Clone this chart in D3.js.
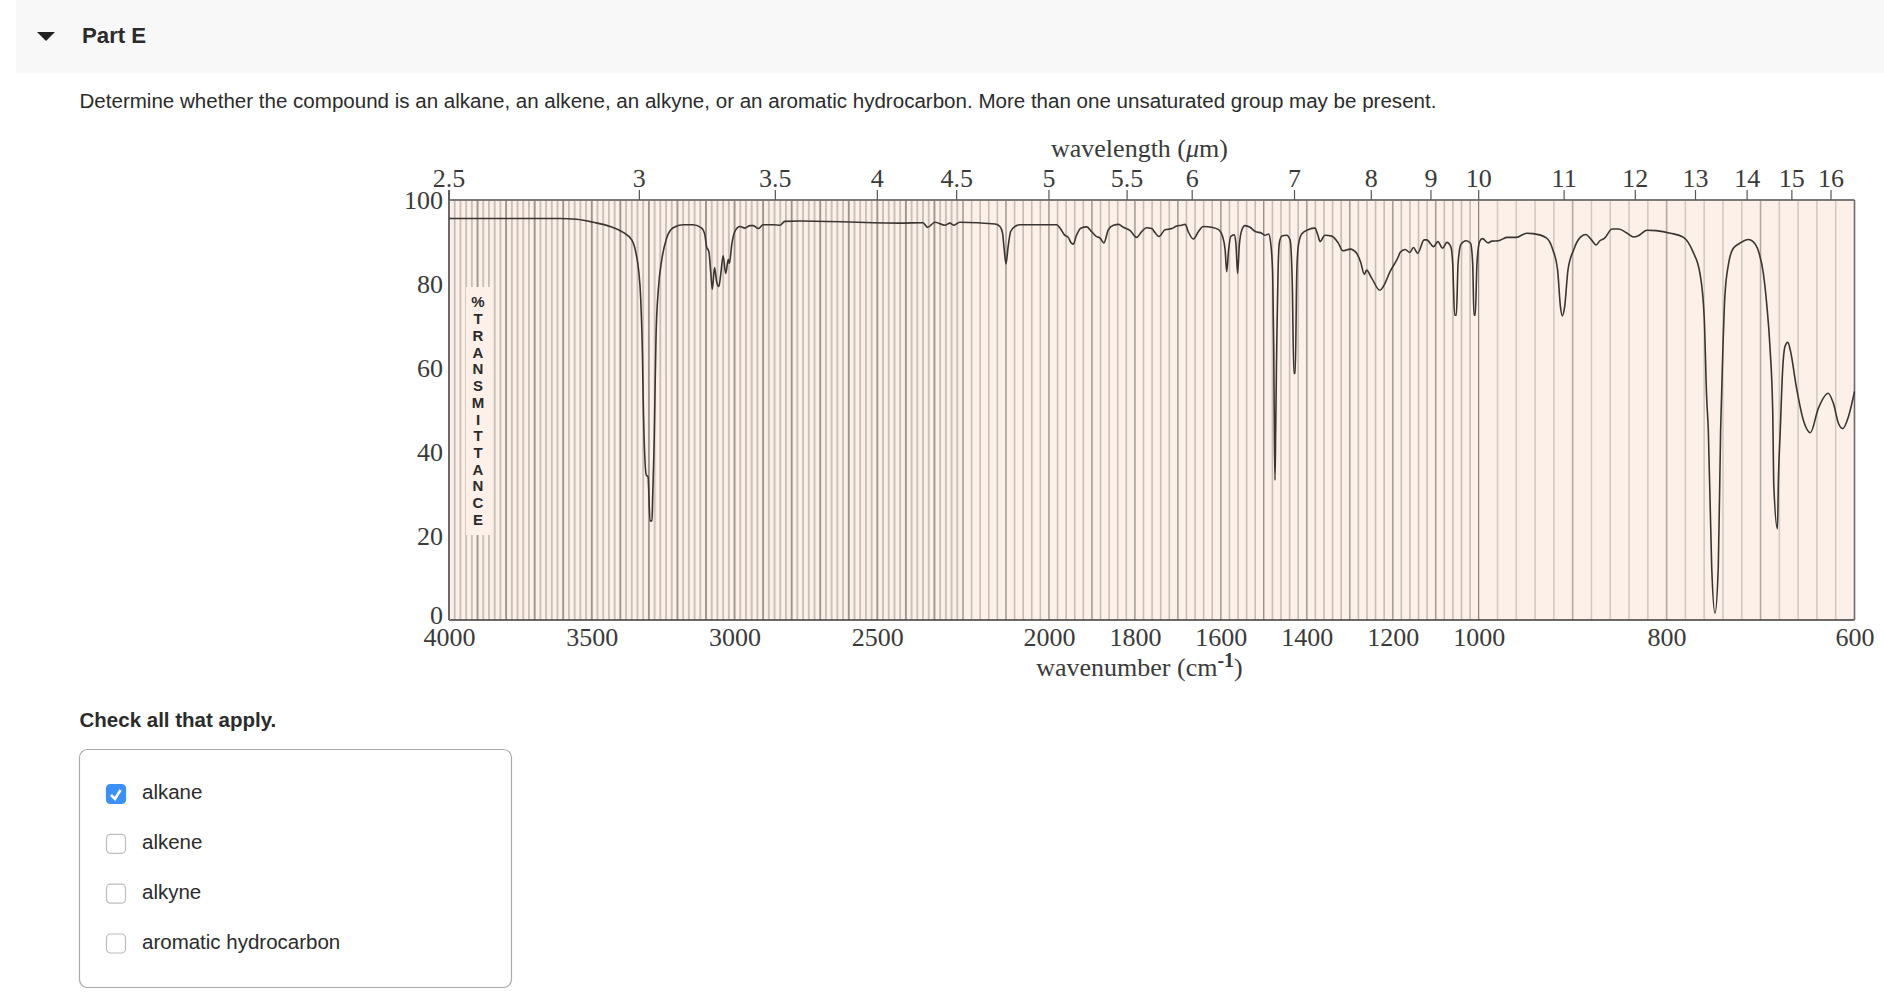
<!DOCTYPE html>
<html>
<head>
<meta charset="utf-8">
<script src="https://d3js.org/d3.v7.min.js"></script>
<style>
    html, body { margin: 0; padding: 0; background: #fff; overflow: hidden; }
    svg { display: block; }
    .ui { font-family: "Liberation Sans", Arial, sans-serif; fill: #2b2b2b; }
    .serif { font-family: "Liberation Serif", "Times New Roman", serif; fill: #3a3a3a; }
</style>
</head>
<body>
<div id="page"></div>
<script>
// spectrum: wavenumber (cm-1) and % transmittance
var wavenumbers = [
    4000, 3611, 3553, 3495, 3436, 3390, 3360, 3345, 3336, 3329, 3322, 3320, 3309, 3303, 3296, 3289, 3287, 3281, 3279,
    3275, 3267, 3255, 3238, 3215, 3180, 3145, 3115, 3104, 3098, 3090, 3083, 3078, 3070, 3063, 3055, 3048, 3040, 3031,
    3022, 3018, 3010, 2999, 2981, 2964, 2946, 2934, 2917, 2900, 2864, 2841, 2824, 2771, 2421, 2340, 2324, 2298, 2263,
    2246, 2232, 2211, 2125, 2114, 2108, 2104, 2100, 2095, 2089, 2079, 2067, 1982, 1974, 1964, 1955, 1949, 1943, 1937,
    1926, 1912, 1901, 1891, 1881, 1872, 1862, 1850, 1838, 1827, 1811, 1796, 1784, 1773, 1761, 1753, 1744, 1730, 1714,
    1703, 1691, 1683, 1676, 1664, 1652, 1641, 1621, 1606, 1596, 1590, 1586.4, 1582, 1577, 1569, 1565, 1561, 1557, 1551,
    1544, 1532, 1520, 1505, 1497, 1489, 1484, 1479.4, 1477, 1475.5, 1474, 1472.4, 1470, 1467, 1464, 1458, 1447, 1439,
    1434, 1430, 1427, 1423.5, 1420, 1412, 1396, 1381, 1375, 1369, 1358, 1342, 1327, 1316, 1299, 1284, 1275, 1266, 1261,
    1249, 1230, 1222, 1206, 1187, 1183, 1171, 1160, 1152, 1142, 1127, 1121, 1105, 1095, 1084, 1074, 1065, 1060.5, 1056,
    1052, 1048, 1041, 1029, 1019, 1014, 1011, 1008, 1004, 999, 996, 990, 986, 979, 970, 960, 949, 942, 928, 921, 916,
    913, 911, 908.5, 905, 899, 892, 886, 880, 875, 871, 866, 858, 851, 842, 835, 830, 821, 811, 796, 782, 772, 764.5,
    760, 757.4, 755.6, 752, 748.5, 745, 742.5, 740, 738, 734, 729, 722, 713, 708, 702, 697, 693.5, 690, 687, 686, 682,
    681, 679, 676.5, 674, 671, 668, 662, 654.5, 647, 638.5, 628, 622.5, 617, 612.5, 606.5, 600
];
var transmittance = [
    95.6, 95.6, 95.4, 94.7, 93.7, 92.3, 90.5, 87.3, 83.3, 77, 61.1, 52.4, 34.5, 34.1, 23.6, 23.6, 28.6, 44.4, 52.4,
    67.5, 78.6, 85.7, 90.9, 93.4, 94.1, 94.1, 93.3, 91.7, 88.9, 87.7, 82.5, 78.7, 83.9, 80.6, 79.4, 82.5, 86.7, 82.5,
    85.9, 84.9, 89.3, 92.5, 93.7, 93.3, 93.9, 93.9, 93.2, 94.1, 94.1, 94, 94.9, 95, 94.5, 94.6, 93.5, 94.7, 94,
    94.5, 94, 94.7, 94.3, 93.7, 92.1, 88.1, 84.8, 88.9, 92.5, 93.7, 94.1, 94.1, 93.3, 91.7, 91.1, 89.9, 89.5, 91.3,
    93.3, 93.6, 92.5, 91.4, 90.9, 89.8, 92.9, 94, 94.2, 93.5, 92.7, 91.1, 92.5, 93.4, 93.2, 92.2, 91.3, 92.9, 93.2,
    93.8, 94, 94.2, 92.5, 90.7, 92.5, 93.7, 93.5, 93, 91.3, 88.1, 82.9, 88.1, 91.3, 91.7, 89.7, 82.5, 89.3, 92.9,
    93.9, 93.5, 92.5, 92.1, 91.6, 91.9, 89.7, 82.5, 65.1, 45.2, 33.3, 45.2, 65.1, 82.5, 89.7, 91.4, 91.6, 90.5,
    81, 58.7, 58.7, 81.7, 88.9, 91.9, 93, 93.3, 91.9, 90.1, 91.6, 91.4, 89.8, 87.9, 88.3, 87.3, 85.3, 82.3, 83.3,
    81.4, 78.5, 79.4, 83, 86.5, 87.5, 88.2, 87.5, 88.7, 87.3, 90.5, 90.5, 88.9, 90.1, 88.5, 89.9, 88.9, 84.9, 72.6,
    72.6, 84.9, 89.5, 90.3, 89.7, 84.9, 72.6, 72.6, 84.9, 90.1, 90.8, 89.8, 90.2, 90.3, 91.1, 91.1, 92.1, 92, 91, 88.1, 83.3,
    74.6, 72.4, 74.6, 83.3, 88.1, 91.1, 91.8, 90.5, 89.3, 90.3, 90.9, 93.1, 93.1, 92.1, 91.2, 91.5, 92.8, 92.7, 92.1, 91.1, 87.7, 82.5,
    72.2, 53.2, 45.2, 12.6, 1.6, 12.6, 45.2, 65.1, 77, 84.9, 88.5, 89.7, 90.6, 90.1, 87.7, 82.5, 75.4, 65.1, 49.2, 32.6, 21.7,
    33.3, 45.2, 59.5, 65.1, 66.1, 63.9, 55.6, 47.6, 44.6, 50.4, 54, 51.6, 46.8, 45.6, 48.4, 54.4
];

// axis labels
var wavenumberTicks = [4000, 3500, 3000, 2500, 2000, 1800, 1600, 1400, 1200, 1000, 800, 600];
var wavelengthLabels = ["2.5", "3", "3.5", "4", "4.5", "5", "5.5", "6", "7", "8", "9", "10", "11", "12", "13", "14", "15", "16"];
var percentTicks = [0, 20, 40, 60, 80, 100];
var sideLabel = ["%", "T", "R", "A", "N", "S", "M", "I", "T", "T", "A", "N", "C", "E"];
var answerOptions = ["alkane", "alkene", "alkyne", "aromatic hydrocarbon"];
var answerChecked = [true, false, false, false];

var svg = d3.select("#page")
    .append("svg")
    .attr("width", 1884)
    .attr("height", 1002);

// the scan is a little soft, so the paper lines get a small blur
svg.append("defs").append("filter")
    .attr("id", "soft")
    .append("feGaussianBlur")
    .attr("stdDeviation", 0.4);

// the question around the chart
svg.append("rect").attr("x", 16).attr("y", 0).attr("width", 1868).attr("height", 73).attr("fill", "#f8f8f8");
svg.append("path").attr("d", "M37,32 L55,32 L46,41 Z").attr("fill", "#222");
svg.append("text").attr("class", "ui").attr("x", 82).attr("y", 43)
    .style("font-size", "22.2px").style("font-weight", "bold").text("Part E");
svg.append("text").attr("class", "ui").attr("x", 79.5).attr("y", 108)
    .style("font-size", "20.55px")
    .text("Determine whether the compound is an alkane, an alkene, an alkyne, or an aromatic hydrocarbon. More than one unsaturated group may be present.");
svg.append("text").attr("class", "ui").attr("x", 79.5).attr("y", 727)
    .style("font-size", "20.5px").style("font-weight", "bold").text("Check all that apply.");

svg.append("rect").attr("x", 79.5).attr("y", 749.5).attr("width", 432).attr("height", 238)
    .attr("rx", 8).attr("fill", "#fff").attr("stroke", "#aaa").attr("stroke-width", 1.2);

var optionRow = d3.scalePoint().domain(answerOptions).range([794, 943.5]);
var options = svg.selectAll(".option")
    .data(answerOptions)
    .enter()
    .append("g")
    .attr("class", "option")
    .attr("transform", function (d) { return "translate(106," + optionRow(d) + ")"; });

options.append("rect")
    .attr("x", 0.5).attr("y", -9.5).attr("width", 19).attr("height", 19).attr("rx", 4)
    .attr("fill", function (d, i) { return answerChecked[i] ? "#3b8ff5" : "#fff"; })
    .attr("stroke", function (d, i) { return answerChecked[i] ? "#3b8ff5" : "#bdbdbd"; })
    .attr("stroke-width", 1.2);
options.filter(function (d, i) { return answerChecked[i]; })
    .append("path")
    .attr("d", "M5,1 L9,5 L14.5,-4")
    .attr("fill", "none").attr("stroke", "#fff").attr("stroke-width", 2.6);
options.append("text")
    .attr("class", "ui")
    .attr("x", 36).attr("y", 5)
    .style("font-size", "20.5px")
    .text(function (d) { return d; });

// wavenumber axis changes its scale at 2200 and at 1000 cm-1
var x = d3.scaleLinear()
    .domain([4000, 2200, 1000, 600])
    .range([449, 963, 1478.7, 1854.5]);
var y = d3.scaleLinear()
    .domain([0, 100])
    .range([620, 200]);

// background and chart paper lines
svg.append("rect")
    .attr("x", x(4000)).attr("y", y(100))
    .attr("width", x(600) - x(4000)).attr("height", y(0) - y(100))
    .attr("fill", "#fdf0e8");

var gridLines = d3.range(620, 4000, 20);
function gridColor(d) {
    if (d === 1000 || d === 1500) return "#6d6a68";
    if (d % 100 === 0) return d > 2200 ? "#9b9690" : (d > 1000 ? "#a3a09a" : "#b0aba6");
    return d > 2200 ? "#c8c0b9" : (d > 1000 ? "#c6beb6" : "#d2cbc4");
}
svg.append("g")
    .attr("filter", "url(#soft)")
    .selectAll("line")
    .data(gridLines)
    .enter()
    .append("line")
    .attr("x1", function (d) { return x(d); })
    .attr("x2", function (d) { return x(d); })
    .attr("y1", y(100))
    .attr("y2", y(0))
    .attr("stroke", gridColor)
    .attr("stroke-width", function (d) {
        if (d === 1000 || d === 1500) return 1;
        return d > 2200 ? 1.9 : 1.6;
    });

// frame
svg.append("line").attr("x1", x(4000)).attr("x2", x(600)).attr("y1", y(100)).attr("y2", y(100))
    .attr("stroke", "#7d7976").attr("stroke-width", 2);
svg.append("line").attr("x1", x(4000)).attr("x2", x(600)).attr("y1", y(0)).attr("y2", y(0))
    .attr("stroke", "#3c3a39").attr("stroke-width", 1.6);
svg.append("line").attr("x1", x(4000)).attr("x2", x(4000)).attr("y1", y(100) - 10).attr("y2", y(0))
    .attr("stroke", "#6d6a68").attr("stroke-width", 2);
svg.append("line").attr("x1", x(600)).attr("x2", x(600)).attr("y1", y(100)).attr("y2", y(0))
    .attr("stroke", "#6d6a68").attr("stroke-width", 1.6);

// wavelength ticks on top, positions are 10000 / wavelength on the same scale
var topAxis = svg.selectAll(".wavelength")
    .data(wavelengthLabels)
    .enter()
    .append("g")
    .attr("class", "wavelength")
    .attr("transform", function (d) { return "translate(" + x(10000 / +d) + ",0)"; });
topAxis.append("line")
    .attr("y1", y(100) - 10).attr("y2", y(100))
    .attr("stroke", "#555").attr("stroke-width", 1.2);
topAxis.append("text")
    .attr("class", "serif")
    .attr("y", 187)
    .attr("text-anchor", "middle")
    .style("font-size", "26px")
    .text(function (d) { return d; });

// bottom and left numbers
var xAxis = svg.append("g")
    .attr("transform", "translate(0," + y(0) + ")")
    .call(d3.axisBottom(x).tickValues(wavenumberTicks).tickSize(0).tickFormat(d3.format("d")));
xAxis.select(".domain").remove();
xAxis.selectAll("text")
    .attr("class", "serif")
    .attr("y", 26).attr("dy", 0)
    .style("font-size", "26px");

var yAxis = svg.append("g")
    .attr("transform", "translate(" + x(4000) + ",0)")
    .call(d3.axisLeft(y).tickValues(percentTicks).tickSize(0).tickPadding(6));
yAxis.select(".domain").remove();
yAxis.selectAll("text")
    .attr("class", "serif")
    .attr("dy", function (d) { return d === 0 ? "0.15em" : "0.31em"; })
    .style("font-size", "26px");

// axis titles
var topTitle = svg.append("text").attr("class", "serif")
    .attr("x", 1139.5).attr("y", 157).attr("text-anchor", "middle").style("font-size", "26px");
topTitle.append("tspan").text("wavelength (");
topTitle.append("tspan").style("font-style", "italic").text("\u03bc");
topTitle.append("tspan").text("m)");

var bottomTitle = svg.append("text").attr("class", "serif")
    .attr("x", 1139.5).attr("y", 676).attr("text-anchor", "middle").style("font-size", "26px");
bottomTitle.append("tspan").text("wavenumber (cm");
bottomTitle.append("tspan").attr("dy", -9).style("font-size", "20px").style("font-weight", "bold").text("-1");
bottomTitle.append("tspan").attr("dy", 9).text(")");

// % TRANSMITTANCE strip, it covers the grid
svg.append("rect")
    .attr("x", 466).attr("y", 287).attr("width", 25).attr("height", 248)
    .attr("fill", "#fdf0e8");
var sideRow = d3.scaleLinear().domain([0, sideLabel.length - 1]).range([302, 519.5]);
svg.selectAll(".side")
    .data(sideLabel)
    .enter()
    .append("text")
    .attr("class", "ui side")
    .attr("x", 478).attr("y", function (d, i) { return sideRow(i); })
    .attr("dy", "0.36em")
    .attr("text-anchor", "middle")
    .style("font-size", "15px")
    .style("font-weight", "bold")
    .text(function (d) { return d; });

// the spectrum
var line = d3.line()
    .x(function (d) { return x(d); })
    .y(function (d, i) { return y(transmittance[i]); })
    .curve(d3.curveMonotoneX);
svg.append("path")
    .attr("d", line(wavenumbers))
    .attr("fill", "none")
    .attr("stroke", "#3a3532")
    .attr("stroke-width", 1.6);
</script>
</body>
</html>
